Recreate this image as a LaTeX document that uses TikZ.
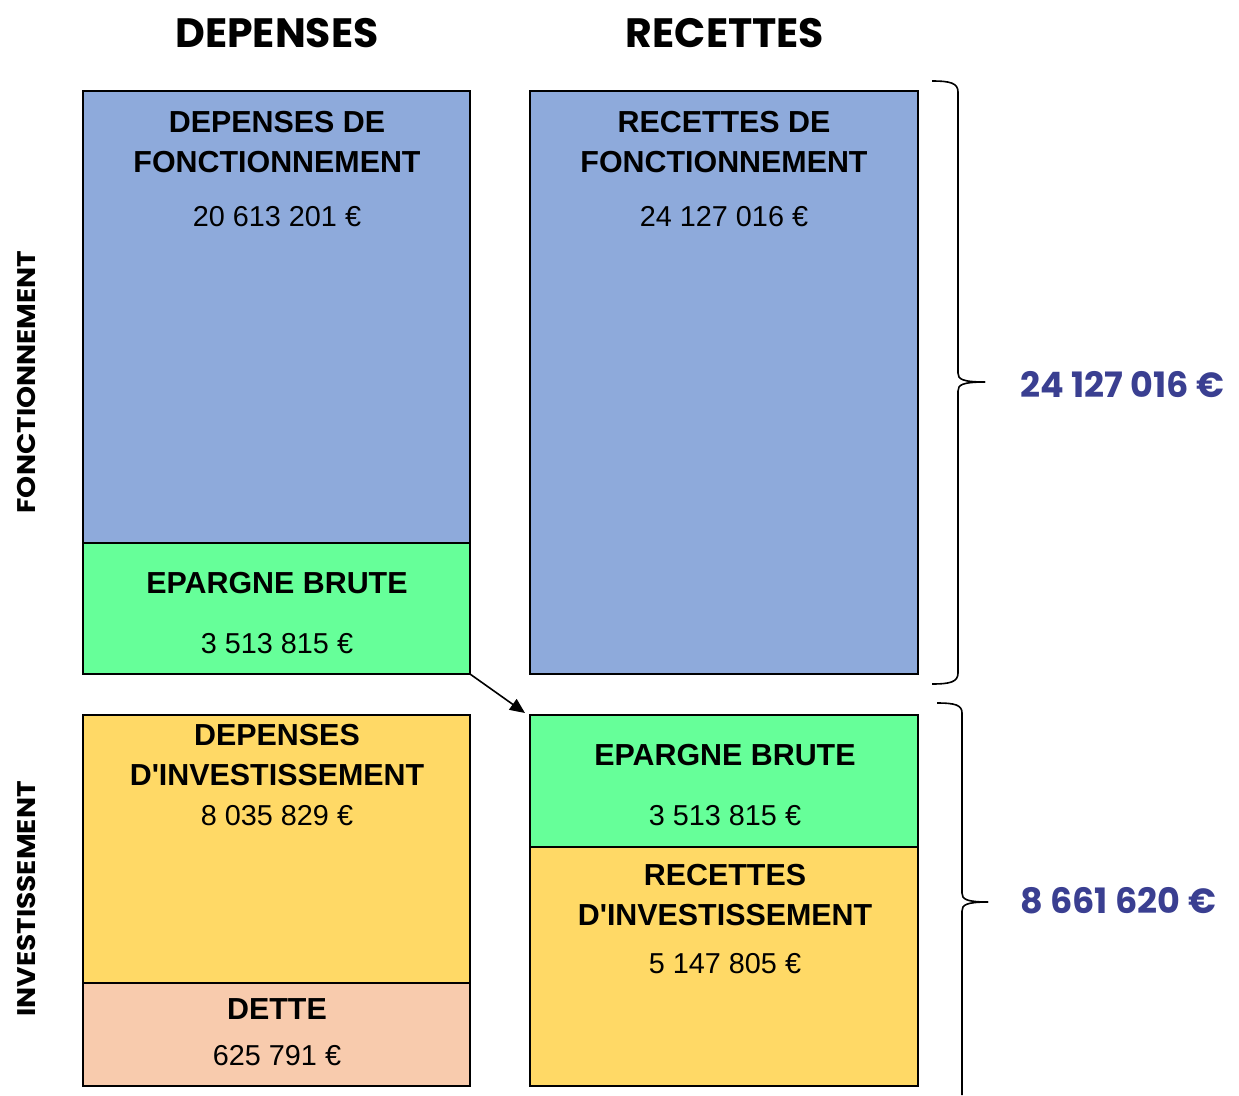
\documentclass[tikz,border=0pt]{standalone}
\usepackage{fontspec}
\usepackage{graphicx}
\setmainfont{Liberation Sans}
\newfontfamily\popfont{Poppins}
\usetikzlibrary{arrows.meta}
\definecolor{bluebox}{HTML}{8EAADB}
\definecolor{greenbox}{HTML}{66FF99}
\definecolor{yellowbox}{HTML}{FFD966}
\definecolor{peachbox}{HTML}{F8CBAD}
\definecolor{totalblue}{HTML}{3A3F91}
\tikzset{
  box/.style={draw=black, line width=1.8pt, rectangle, inner sep=0pt, outer sep=0pt, anchor=north west},
  ttl/.style={inner sep=0pt, anchor=base, font=\fontsize{30.4}{32}\selectfont\bfseries},
  num/.style={inner sep=0pt, anchor=base, font=\fontsize{28.8}{32}\selectfont},
  hdr/.style={inner sep=0pt, anchor=base, font=\fontsize{41}{44}\selectfont\popfont\bfseries},
  side/.style={inner sep=0pt, anchor=center, rotate=90, font=\fontsize{25.5}{30}\selectfont\popfont\bfseries},
  total/.style={inner sep=0pt, anchor=base west, text=totalblue, font=\fontsize{35}{38}\selectfont\popfont\bfseries},
  brace/.style={draw=black, line width=1.6pt}
}
\begin{document}
\begin{tikzpicture}[x=1pt,y=-1pt]
\useasboundingbox (0,0) rectangle (1239,1095);
% headers
\node[hdr] (hdep) at (277,47) {DEPENSES};
\node[hdr] (hrec) at (725,47) {RECETTES};
\node[side] (sfon) at (27,382) {\scalebox{1.1}[1]{FONCTIONNEMENT}};
\node[side] (sinv) at (27,899) {\scalebox{1.1}[1]{INVESTISSEMENT}};
% boxes
\node[box, fill=bluebox, minimum width=387pt, minimum height=452pt] (dfb) at (83,91) {};
\node[box, fill=greenbox, minimum width=387pt, minimum height=131pt] (egl) at (83,543) {};
\node[box, fill=bluebox, minimum width=388pt, minimum height=583pt] (rfb) at (530,91) {};
\node[box, fill=yellowbox, minimum width=387pt, minimum height=268pt] (dib) at (83,715) {};
\node[box, fill=peachbox, minimum width=387pt, minimum height=103pt] (det) at (83,983) {};
\node[box, fill=greenbox, minimum width=388pt, minimum height=132pt] (egr) at (530,715) {};
\node[box, fill=yellowbox, minimum width=388pt, minimum height=239pt] (rib) at (530,847) {};
% texts
\node[ttl] (t1a) at (277,132.5) {DEPENSES DE};
\node[ttl] (t1b) at (277,172.5) {FONCTIONNEMENT};
\node[num] (t1c) at (277,226.3) {20 613 201 €};
\node[ttl] (t2a) at (277,593.5) {EPARGNE BRUTE};
\node[num] (t2b) at (277,653.3) {3 513 815 €};
\node[ttl] (t3a) at (724,132.5) {RECETTES DE};
\node[ttl] (t3b) at (724,172.5) {FONCTIONNEMENT};
\node[num] (t3c) at (724,226.3) {24 127 016 €};
\node[ttl] (t4a) at (277,745.5) {DEPENSES};
\node[ttl] (t4b) at (277,785.5) {D\textquotesingle INVESTISSEMENT};
\node[num] (t4c) at (277,825.3) {8 035 829 €};
\node[ttl] (t5a) at (277,1019.5) {DETTE};
\node[num] (t5b) at (277,1065.3) {625 791 €};
\node[ttl] (t6a) at (725,765.5) {EPARGNE BRUTE};
\node[num] (t6b) at (725,825.3) {3 513 815 €};
\node[ttl] (t7a) at (725,885.5) {RECETTES};
\node[ttl] (t7b) at (725,925.5) {D\textquotesingle INVESTISSEMENT};
\node[num] (t7c) at (725,973.3) {5 147 805 €};
% arrow
\coordinate (aend) at (525,713);
\draw[line width=1.6pt, -{Triangle[length=15pt,width=13pt]}] (egl.south east) -- (aend);
% braces
\draw[brace] (932,81) .. controls (950,81) and (958,83) .. (958,92) -- (958,373)
  .. controls (958,379) and (962,382) .. (985,382);
\draw[brace] (985,382) .. controls (962,382) and (958,385) .. (958,391) -- (958,673)
  .. controls (958,682) and (950,684) .. (932,684);
\draw[brace] (937,703) .. controls (955,703) and (962,705) .. (962,713) -- (962,893)
  .. controls (962,899) and (966,902) .. (988,902);
\draw[brace] (988,902) .. controls (966,902) and (962,905) .. (962,911) -- (962,1095);
% totals
\node[total] (tot1) at (1020,397) {24 127 016 €};
\node[total] (tot2) at (1020,913) {8 661 620 €};
\end{tikzpicture}
\end{document}
